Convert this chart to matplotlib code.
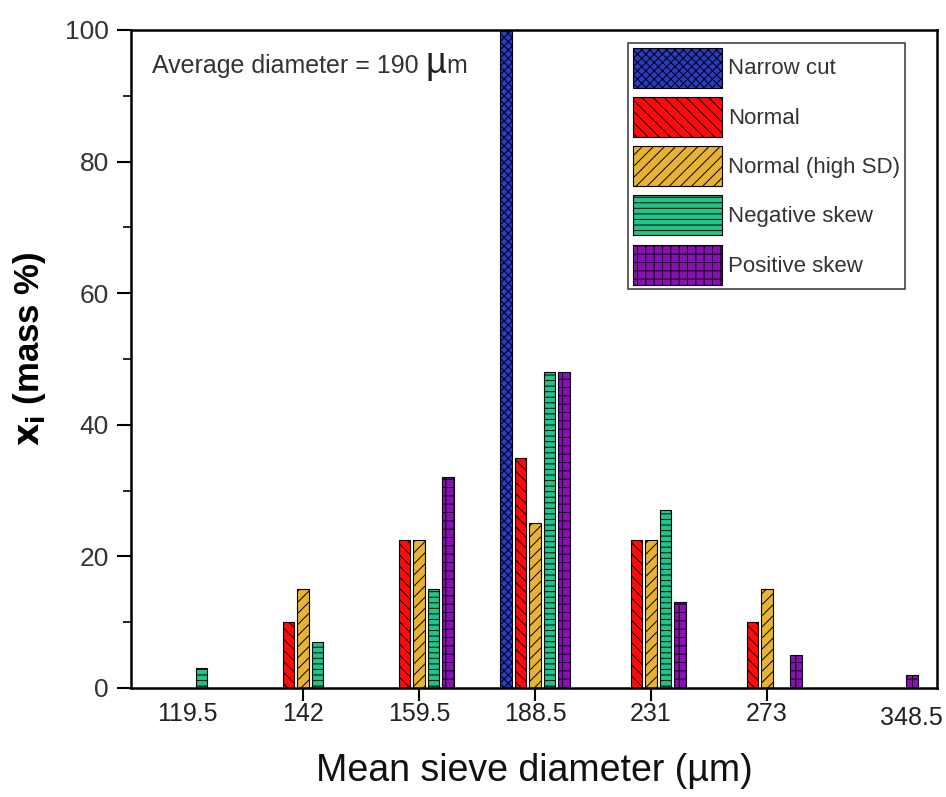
import numpy as np
import matplotlib
matplotlib.use("Agg")
import matplotlib.pyplot as plt
from matplotlib.transforms import ScaledTranslation

plt.rcParams["font.family"] = ["Liberation Sans", "DejaVu Sans"]
plt.rcParams["hatch.linewidth"] = 0.7
plt.rcParams["mathtext.fontset"] = "dejavusans"

sieve_labels = ["119.5", "142", "159.5", "188.5", "231", "273", "348.5"]

narrow_cut = [0, 0, 0, 100, 0, 0, 0]
normal = [0, 10, 22.5, 35, 22.5, 10, 0]
normal_high_sd = [0, 15, 22.5, 25, 22.5, 15, 0]
negative_skew = [3, 7, 15, 48, 27, 0, 0]
positive_skew = [0, 0, 32, 48, 13, 5, 2]

series = [
    ("Narrow cut", narrow_cut, "#2a3cc4", "xxxx"),
    ("Normal", normal, "#ff0a0a", "\\\\\\"),
    ("Normal (high SD)", normal_high_sd, "#e8b232", "///"),
    ("Negative skew", negative_skew, "#1fc488", "---"),
    ("Positive skew", positive_skew, "#8a0fb4", "++"),
]

fig = plt.figure(figsize=(9.46, 7.97), dpi=100)
ax = fig.add_axes([0.1385, 0.1368, 0.852, 0.8256])

x = np.arange(len(sieve_labels))
width = 0.1
step = 0.125

for i, (name, vals, color, hatch) in enumerate(series):
    vals = np.array(vals, dtype=float)
    mask = vals > 0
    ax.bar(x[mask] + (i - 2) * step, vals[mask], width=width, color=color,
           edgecolor="black", linewidth=0.8, hatch=hatch, label=name, zorder=2)

ax.set_xlim(-0.483, 6.466)
ax.set_ylim(0, 100)

ax.set_xticks(x, sieve_labels)
ax.set_yticks(np.arange(0, 101, 20))
ax.set_yticks(np.arange(10, 100, 20), minor=True)
ax.tick_params(axis="x", direction="out", length=9, width=1.5, pad=1,
               labelsize=18, labelcolor="#222222")
ax.tick_params(axis="y", which="major", direction="out", length=10, width=1.5,
               pad=6, labelsize=19, labelcolor="#333333")
ax.tick_params(axis="y", which="minor", direction="out", length=6, width=1.2)

# no tick marks under the two end groups, last label sits a bit to the right
xticks = ax.xaxis.get_major_ticks()
xticks[0].tick1line.set_visible(False)
xticks[-1].tick1line.set_visible(False)
last = ax.get_xticklabels()[-1]
last.set_transform(last.get_transform() + ScaledTranslation(0.28, -0.04, fig.dpi_scale_trans))

for sp in ax.spines.values():
    sp.set_linewidth(1.8)

ax.set_xlabel("Mean sieve diameter (µm)", fontsize=27, labelpad=17, color="#111111")
ax.set_ylabel(r"$\mathbf{x_i}$ (mass %)", fontsize=25, fontweight="bold", labelpad=12)
ax.yaxis.label.set_y(0.515)

# annotation with an enlarged mu, pieces laid out on a common baseline
fig.canvas.draw()
renderer = fig.canvas.get_renderer()
to_axes = ax.transAxes.inverted()
xpos, ybase = 0.026, 0.935
for piece, size, col in [("Average diameter = 190 ", 18, "#333333"),
                         ("µ", 26, "#222222"), ("m", 18, "#333333")]:
    t = ax.text(xpos, ybase, piece, transform=ax.transAxes, fontsize=size,
                color=col, va="baseline")
    bb = t.get_window_extent(renderer)
    xpos = to_axes.transform((bb.x1, bb.y0))[0]

leg = ax.legend(loc="upper right", bbox_to_anchor=(0.960, 0.980), borderaxespad=0,
                fontsize=16, handlelength=4.0, handleheight=2.39, labelspacing=0.42,
                handletextpad=0.3, borderpad=0.2, fancybox=False, framealpha=1)
leg.get_frame().set_edgecolor("#444444")
leg.get_frame().set_linewidth(1.2)
for t in leg.get_texts():
    t.set_color("#333333")

fig.savefig("out.png", dpi=100)
